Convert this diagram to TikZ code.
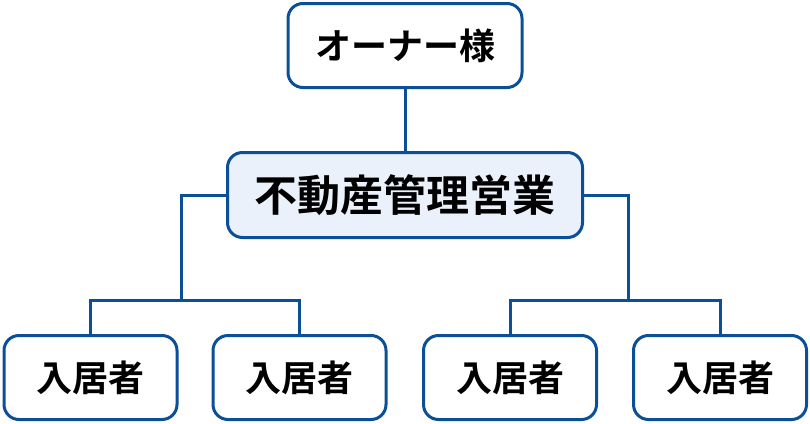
\documentclass[tikz,border=0pt]{standalone}
\usepackage{fontspec}
\usetikzlibrary{positioning}
\usepackage{xcolor}
\newfontfamily\jpfont{Noto Sans CJK JP Bold}
\definecolor{orgblue}{HTML}{0B4F98}
\definecolor{orgfill}{HTML}{EAF1FA}

\begin{document}
\begin{tikzpicture}
[x=1pt, y=-1pt,
% The box style is used to draw every member of the chart
box/.style={rectangle, rounded corners=15pt, draw=orgblue, line width=3pt, fill=white, minimum width=234pt, minimum height=84pt, inner sep=0pt, font=\jpfont\fontsize{36}{40}\selectfont},
% The lead style is used to draw the central box
lead/.style={box, fill=orgfill, minimum width=355pt, minimum height=85pt, font=\jpfont\fontsize{43}{47}\selectfont},
% The tenant style is used to draw the boxes of the bottom row
tenant/.style={box, minimum width=173pt},
% The link style is used to draw the connectors
link/.style={draw=orgblue, line width=3pt}
]
\useasboundingbox (0,0) rectangle (810,423);
% Draw boxes
\node [box] (owner) at (405,45.5) {オーナー様};
\node [lead] (agency) at (405,195) {不動産管理営業};

\node [tenant] (tenantA) at (90.5,377.5) {入居者};
\node [tenant] (tenantB) at (299.5,377.5) {入居者};
\node [tenant] (tenantC) at (510,377.5) {入居者};
\node [tenant] (tenantD) at (720,377.5) {入居者};

\coordinate (joinL) at (181.5,300);
\coordinate (joinR) at (628,300);

% Draw connectors
\draw[link] (owner)--(agency);
\draw[link] (agency.west) -| (joinL);
\draw[link] (agency.east) -| (joinR);
\draw[link] (tenantA.north) |- (joinL) -| (tenantB.north);
\draw[link] (tenantC.north) |- (joinR) -| (tenantD.north);
\end{tikzpicture}
\end{document}
